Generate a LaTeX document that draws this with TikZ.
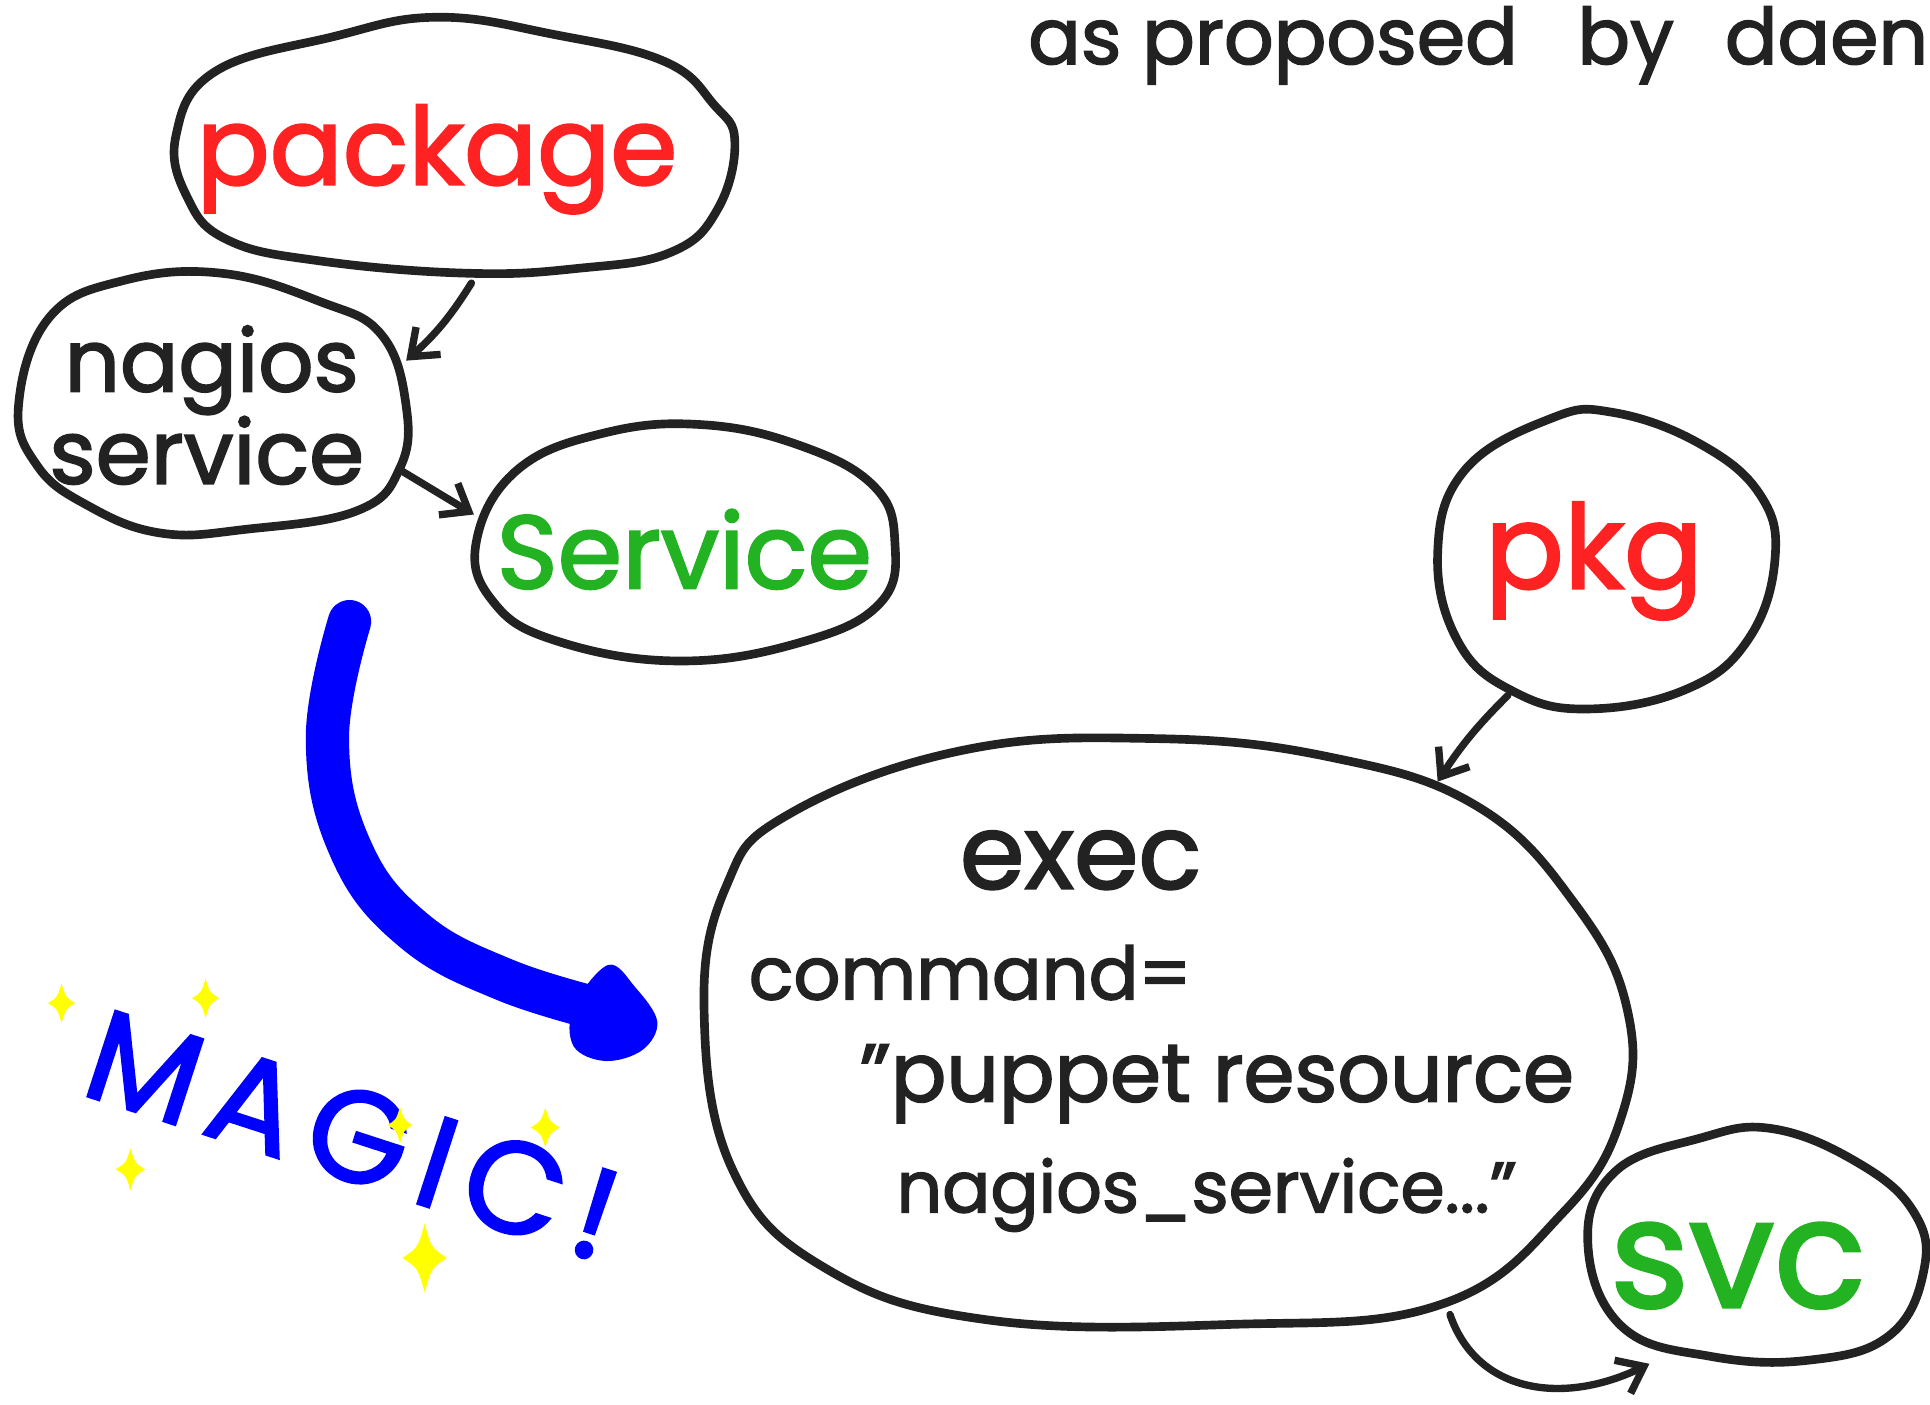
\documentclass[tikz,border=0pt]{standalone}
\usepackage{fontspec}
\setmainfont{Poppins}[FakeBold=2]
\usetikzlibrary{arrows.meta}
\definecolor{ink}{RGB}{34,34,34}
\definecolor{pred}{RGB}{255,34,34}
\definecolor{pgreen}{RGB}{34,178,34}
\definecolor{pblue}{RGB}{0,0,255}
\definecolor{pyellow}{RGB}{255,255,0}
\begin{document}
\begin{tikzpicture}[x=0.02cm,y=-0.02cm,
  blob/.style={draw=ink, line width=4pt, line join=round},
  arr/.style={draw=ink, line width=3.4pt, line cap=round, -{Straight Barb[length=11pt,width=17pt,line width=3.4pt]}},
  lbl/.style={inner sep=0pt, anchor=base},
  sparkle/.pic={\fill[pyellow] (0,-1) .. controls (0.3,-0.3) .. (1,0) .. controls (0.3,0.3) .. (0,1) .. controls (-0.3,0.3) .. (-1,0) .. controls (-0.3,-0.3) .. (0,-1) -- cycle;}
]
\useasboundingbox (0,0) rectangle (1568,1141);
\fill[white] (0,0) rectangle (1568,1141);

% heading
\node[lbl, anchor=base west, text=ink, font=\fontsize{36pt}{40pt}\selectfont] (credit) at (835,52) {as proposed\hspace{18pt} by\hspace{14pt} daenn};

% blobs
\draw[blob] plot[smooth cycle, tension=0.7] coordinates {(143,110) (175,58) (270,30) (355,14) (450,28) (540,50) (580,85) (597,115) (583,170) (545,205) (470,218) (380,222) (260,212) (185,195) (152,160)};
\draw[blob] plot[smooth cycle, tension=0.7] coordinates {(15,330) (40,258) (100,228) (180,222) (260,245) (310,272) (330,330) (325,380) (290,415) (200,430) (130,433) (70,410) (30,378)};
\draw[blob] plot[smooth cycle, tension=0.7] coordinates {(387,440) (420,382) (490,352) (570,345) (650,362) (710,395) (727,440) (715,490) (650,522) (550,537) (450,520) (400,488)};
\draw[blob] plot[smooth cycle, tension=0.7] coordinates {(1168,450) (1190,382) (1260,340) (1310,335) (1380,360) (1430,402) (1442,455) (1420,520) (1370,560) (1290,576) (1230,562) (1185,522)};
\draw[blob] plot[smooth cycle, tension=0.7] coordinates {(640,662) (780,610) (935,600) (1080,615) (1200,655) (1280,735) (1322,820) (1318,905) (1270,985) (1170,1060) (1000,1076) (800,1072) (670,1030) (595,950) (572,820) (590,720)};
\draw[blob] plot[smooth cycle, tension=0.7] coordinates {(1290,1010) (1312,952) (1380,925) (1440,917) (1510,945) (1555,985) (1563,1032) (1535,1085) (1470,1105) (1390,1102) (1318,1078)};

% labels
\node[lbl, text=pred, font=\fontsize{50pt}{54pt}\selectfont] (package) at (355,150) {package};
\node[lbl, text=ink, font=\fontsize{40pt}{44pt}\selectfont] (nagios) at (172,318) {nagios};
\node[lbl, text=ink, font=\fontsize{41pt}{44pt}\selectfont] (nagserv) at (168,393) {service};
\node[lbl, text=pgreen, font=\fontsize{48pt}{52pt}\selectfont] (service) at (556,478) {Service};
\node[lbl, text=pred, font=\fontsize{54pt}{58pt}\selectfont] (pkg) at (1295,478) {pkg};
\node[lbl, text=ink, font=\fontsize{48pt}{50pt}\selectfont] (exec) at (878,722) {exec};
\node[lbl, anchor=base west, text=ink, font=\fontsize{34pt}{40pt}\selectfont] (cmd1) at (608,812) {command=};
\node[lbl, anchor=base west, text=ink, font=\fontsize{38pt}{40pt}\selectfont] (cmd2) at (698,895) {"puppet resource};
\node[lbl, anchor=base west, text=ink, font=\fontsize{33pt}{40pt}\selectfont] (cmd3) at (728,985) {nagios\_service..."};
\node[lbl, text=pgreen, font=\fontsize{70pt}{72pt}\selectfont] (svc) at (1412,1062) {svc};

% connector end points
\coordinate (p1) at (383,230);
\coordinate (n1) at (330,293);
\coordinate (n2) at (327,383);
\coordinate (s1) at (385,418);
\coordinate (k1) at (1225,565);
\coordinate (e1) at (1168,635);
\coordinate (e2) at (1178,1068);
\coordinate (v1) at (1340,1108);

\draw[arr] (p1) to[bend left=8] (n1);
\draw[arr] (n2) -- (s1);
\draw[arr] (k1) to[bend right=6] (e1);
\draw[arr] (e2) .. controls (1200,1132) and (1270,1142) .. (v1);

% magic arrow
\coordinate (m0) at (284,505);
\coordinate (m5) at (495,822);
\draw[pblue, line width=20pt, line cap=round] plot[smooth, tension=0.7] coordinates {(m0) (266,600) (285,690) (335,755) (410,796) (m5)};
\fill[pblue] plot[smooth cycle, tension=0.6] coordinates {(494,784) (516,802) (534,830) (522,853) (492,862) (466,850) (466,818)};

\node[inner sep=0pt, text=pblue, rotate=-18, font=\fontsize{60pt}{62pt}\selectfont\addfontfeatures{LetterSpace=12}] (magic) at (287,922) {MAGIC!};

% sparkles
\pic[xscale=11,yscale=16] at (50,815) {sparkle};
\pic[xscale=11,yscale=16] at (167,811) {sparkle};
\pic[xscale=12,yscale=17] at (106,950) {sparkle};
\pic[xscale=10,yscale=15] at (325,914) {sparkle};
\pic[xscale=12,yscale=16] at (443,916) {sparkle};
\pic[xscale=18,yscale=28] at (345,1022) {sparkle};
\end{tikzpicture}
\end{document}
